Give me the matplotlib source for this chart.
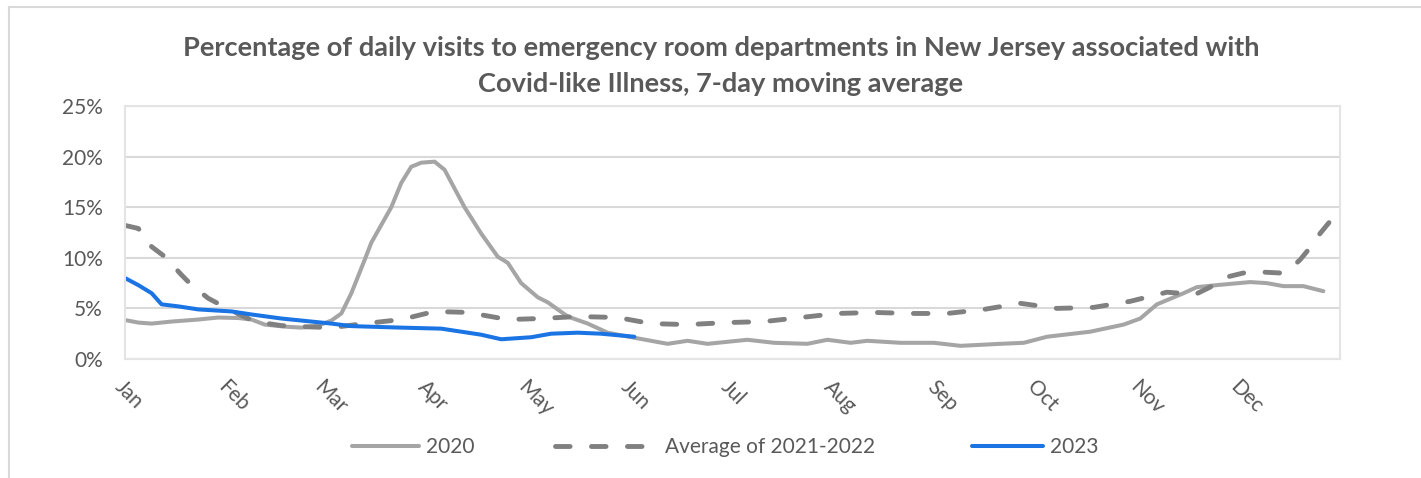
import matplotlib.pyplot as plt
from matplotlib.lines import Line2D
from matplotlib.ticker import FuncFormatter

plt.rcParams['font.family'] = ['Lato', 'DejaVu Sans']

#%% data (day of year -> percent)

months = ['Jan', 'Feb', 'Mar', 'Apr', 'May', 'Jun',
          'Jul', 'Aug', 'Sep', 'Oct', 'Nov', 'Dec']
month_start = [0, 31, 60, 91, 121, 152, 182, 213, 244, 274, 305, 335]

days_2020 = [0, 4, 8, 14, 22, 28, 34, 38, 42, 48, 53, 58, 62, 65, 68, 72, 74,
             80, 83, 86, 89, 93, 96, 102, 107, 112, 115, 119, 124, 127, 133,
             139, 145, 153, 158, 163, 169, 175, 187, 195, 205, 211, 218, 223,
             233, 243, 251, 263, 270, 277, 290, 300, 305, 310, 318, 322, 328,
             338, 343, 348, 354, 360]
pct_2020 = [3.85, 3.6, 3.5, 3.7, 3.9, 4.1, 4.05, 3.9, 3.4, 3.2, 3.1, 3.3, 3.8,
            4.5, 6.5, 9.8, 11.5, 15.0, 17.4, 19.0, 19.4, 19.5, 18.7, 15.0,
            12.4, 10.1, 9.5, 7.5, 6.1, 5.6, 4.2, 3.5, 2.6, 2.1, 1.8, 1.5, 1.8,
            1.5, 1.9, 1.6, 1.5, 1.9, 1.6, 1.8, 1.6, 1.6, 1.3, 1.5, 1.6, 2.2,
            2.7, 3.4, 4.0, 5.4, 6.5, 7.1, 7.3, 7.6, 7.5, 7.2, 7.2, 6.7]

days_avg = [0, 4, 8, 12, 17, 20, 25, 29, 35, 39, 47, 53, 62, 72, 83, 93, 103,
            115, 125, 136, 148, 158, 169, 181, 192, 203, 214, 225, 236, 247,
            258, 269, 280, 291, 302, 313, 317, 321, 326, 331, 336, 341, 347,
            350, 353, 356, 359, 362]
pct_avg = [13.2, 12.9, 11.1, 10.1, 8.3, 7.3, 6.0, 5.3, 4.3, 3.7, 3.3, 3.2, 3.1,
           3.5, 3.9, 4.7, 4.6, 3.9, 4.0, 4.2, 4.1, 3.5, 3.4, 3.6, 3.7, 4.1,
           4.5, 4.6, 4.5, 4.5, 4.9, 5.5, 5.0, 5.1, 5.7, 6.6, 6.5, 6.3, 7.1,
           8.1, 8.5, 8.6, 8.5, 8.9, 9.8, 11.0, 12.4, 13.6]

days_2023 = [0, 4, 8, 11, 16, 22, 32, 38, 47, 56, 62, 68, 83, 95, 103, 107,
             113, 122, 128, 136, 143, 153]
pct_2023 = [8.0, 7.3, 6.5, 5.4, 5.2, 4.9, 4.7, 4.4, 4.0, 3.7, 3.5, 3.25, 3.1,
            3.0, 2.6, 2.4, 1.95, 2.15, 2.5, 2.6, 2.5, 2.2]

#%%

W, H = 1421, 478
fig = plt.figure(figsize=(W / 100, H / 100), dpi=100)
ax = fig.add_axes([125 / W, 1 - 359 / H, (1340 - 125) / W, (359 - 106) / H])

text_col = '#595959'
grid_col = '#d9d9d9'

l1, = ax.plot(days_2020, pct_2020, color='#a5a5a5', lw=2.9,
              solid_capstyle='round', solid_joinstyle='round', label='2020')
l2, = ax.plot(days_avg, pct_avg, color='#808080', lw=3.5, dashes=(3, 4.4),
              dash_capstyle='round', label='Average of 2021-2022')
l3, = ax.plot(days_2023, pct_2023, color='#1b74e4', lw=2.9,
              solid_capstyle='round', solid_joinstyle='round', label='2023')

ax.set_xlim(0, 365)
ax.set_ylim(0, 25)
ax.set_yticks([0, 5, 10, 15, 20, 25])
ax.yaxis.set_major_formatter(FuncFormatter(lambda v, _: f'{v:.0f}%'))
ax.set_xticks(month_start)
ax.set_xticklabels(months, rotation=-45, ha='left', rotation_mode='anchor')
ax.tick_params(axis='both', length=0, labelsize=15, labelcolor=text_col)
ax.tick_params(axis='y', pad=16)
ax.tick_params(axis='x', pad=13)
ax.yaxis.grid(True, color=grid_col, lw=1.5)
ax.set_axisbelow(True)
for s in ax.spines.values():
    s.set_color('#e4e4e4')
    s.set_linewidth(1.5)

fig.text(721 / W, 1 - 48 / H,
         'Percentage of daily visits to emergency room departments in New Jersey associated with',
         ha='center', va='center', fontsize=19.6, weight='bold', color=text_col)
fig.text(721 / W, 1 - 84 / H, 'Covid-like Illness, 7-day moving average',
         ha='center', va='center', fontsize=19.6, weight='bold', color=text_col)

# legend entries placed one by one, like the original
leg_y = 1 - 447 / H
for handle, x0, hlen, hpad in [(l1, 352, 3.2, 0.35), (l2, 555, 4.4, 0.9),
                               (l3, 972, 3.4, 0.35)]:
    fig.legend(handles=[handle], loc='center left', bbox_to_anchor=(x0 / W, leg_y),
               frameon=False, fontsize=15, labelcolor=text_col,
               handlelength=hlen, handletextpad=hpad, borderpad=0,
               borderaxespad=0)

# outer chart border (top and left visible)
fig.add_artist(Line2D([9 / W, 9 / W], [0, 1 - 7 / H], transform=fig.transFigure,
                      color=grid_col, lw=1.5))
fig.add_artist(Line2D([9 / W, 1], [1 - 7 / H, 1 - 7 / H], transform=fig.transFigure,
                      color=grid_col, lw=1.5))

fig.savefig('out.png', dpi=100)
